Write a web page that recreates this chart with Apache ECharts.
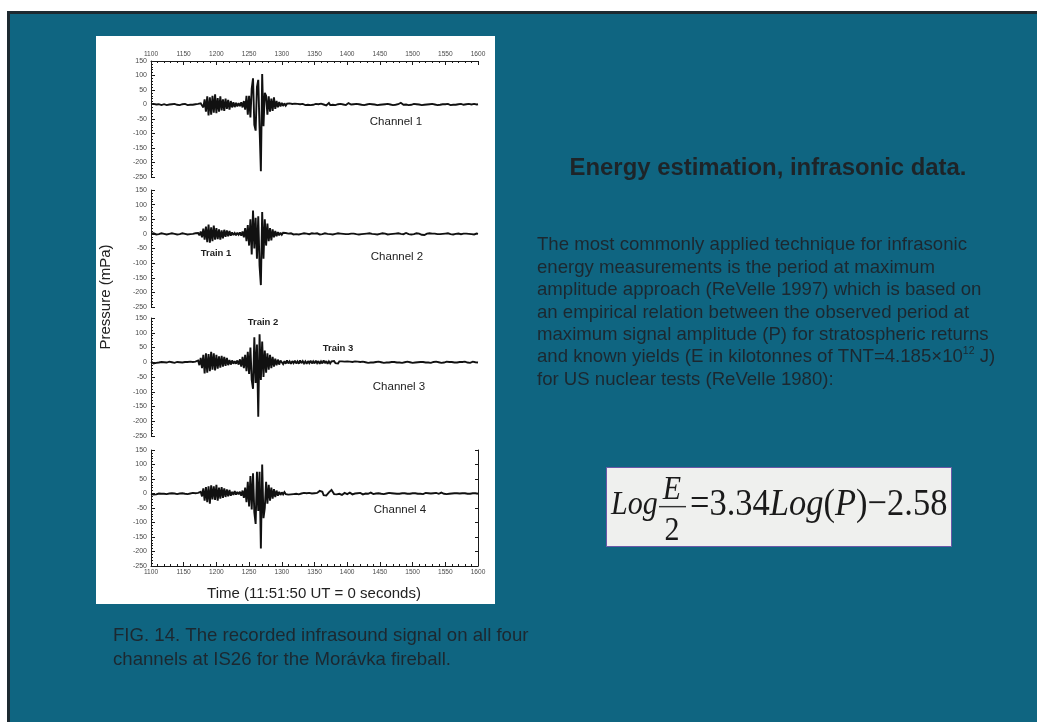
<!DOCTYPE html>
<html>
<head>
<meta charset="utf-8">
<title>Energy estimation, infrasonic data</title>
<script src="https://cdn.jsdelivr.net/npm/echarts/dist/echarts.min.js"></script>
<style>
  html, body { margin: 0; padding: 0; background: #ffffff; }
  #chart { width: 1037px; height: 722px; }
</style>
</head>
<body>
<div id="chart"></div>
<script>
// Infrasound pressure (mPa) at IS26, one sample every 2 s from t = 1100 s to 1600 s
const tStart = 1100;
const tStep = 2;

const channel1 = [
  1,-2,2,-1,0,-3,1,2,-2,0,1,-1,-2,2,0,-1,1,-2,2,0,-1,1,-2,0,1,
  -1,2,0,-2,1,-1,2,-1,0,1,-2,2,-3,4,8,-10,18,-25,28,-38,25,-35,30,-28,35,
  -30,22,-25,28,-20,18,-22,20,-15,16,-18,12,-10,8,-9,6,-7,5,-6,8,-10,12,-18,30,-35,
  30,-45,55,90,-70,-90,60,85,-80,-230,105,-75,40,30,-35,28,-25,20,-22,25,-15,12,-10,9,-7,
  6,-5,4,-4,3,-3,4,-2,2,-3,3,-1,2,-2,1,-3,2,0,-2,3,-1,1,-2,2,-1,
  0,2,-2,1,-1,3,-2,0,2,-3,1,5,-2,1,-1,2,-2,0,1,-2,2,-1,0,1,-2,
  2,5,-1,0,-2,1,-1,2,-3,1,0,-1,2,-2,1,0,-1,2,-2,1,-1,0,2,-2,1,
  -1,2,0,-2,1,-1,2,-1,0,1,-2,2,-1,0,1,4,6,2,-1,-2,0,1,-2,1,-1,
  0,2,-2,1,-1,0,2,-2,1,-1,2,0,-2,1,-1,2,-1,0,1,-2,2,-1,0,1,-2,
  1,-1,2,0,-2,1,-1,2,-1,0,1,-2,2,3,-1,0,1,-2,2,-1,0,1,2,-1,0,
  1
];

const channel2 = [
  1,-1,2,0,-2,1,-1,0,2,-1,0,1,-2,1,0,-1,2,-1,0,1,-2,1,-1,0,2,
  -1,0,1,-2,1,-1,2,0,-1,2,-3,3,-5,8,-12,18,-20,25,-28,32,-30,22,-25,28,-20,
  20,-18,15,-20,12,-15,14,-10,12,-8,10,-6,5,-4,3,-5,4,-3,5,-6,8,-12,20,-25,30,
  -40,50,-70,80,-50,55,-85,60,-110,-175,75,-85,50,-40,35,-25,20,-22,15,-12,10,-8,6,-5,4,
  -3,4,-2,3,-2,1,-3,2,0,-2,3,-1,1,-2,2,0,-1,2,-2,1,3,-1,0,2,-2,
  1,-1,2,0,-2,3,-1,1,2,-2,0,1,-1,2,-2,1,0,-1,2,-2,1,-1,0,1,-1,
  2,-1,0,1,-2,1,3,-1,0,-2,1,-1,2,0,-1,1,-2,2,-1,0,1,-1,2,-2,1,
  0,-1,2,-1,1,0,-2,1,-1,2,0,-1,1,-2,2,-1,0,1,-1,2,3,1,-1,0,-2,
  1,-1,0,2,-2,1,-1,-3,-5,-4,-1,1,0,2,-1,1,-2,1,0,-1,2,-1,1,0,-2,
  1,-1,2,0,-1,1,-2,2,0,-1,1,3,-1,0,1,-2,1,-1,0,2,-1,1,-2,0,1,
  0
];

const channel3 = [
  2,-3,-4,-3,-2,-3,-1,0,1,-2,0,1,-1,0,2,-1,0,1,-2,0,1,-1,0,2,-1,
  0,1,-2,1,-1,2,-2,1,-1,2,-3,6,-10,15,-20,25,-38,30,-35,28,-30,35,-25,30,-28,
  25,-22,20,-18,22,-15,18,-12,15,-10,8,-8,6,-5,4,-5,6,-8,10,-15,18,-20,25,-30,35,
  -40,50,-60,-90,85,-70,60,-185,95,-60,70,-50,40,-35,30,-25,25,-20,18,-15,12,-10,9,-8,6,
  5,-6,4,-5,6,-4,3,-5,4,-3,5,-4,3,-5,6,-3,4,-4,3,-5,4,-3,5,-4,3,
  -4,5,-3,4,-5,3,-4,6,-3,4,-5,3,-4,3,-2,4,-3,2,-4,3,-2,3,-3,2,-2,
  3,-2,2,-3,1,-2,3,-1,2,-2,1,-1,2,-2,0,1,-2,1,-1,2,-1,0,1,-1,2,
  -1,0,1,-2,1,-1,2,-1,0,1,-2,1,0,-1,2,-1,1,-2,1,0,-1,2,-1,0,1,
  -2,1,-1,2,0,-1,1,-2,1,0,-1,2,-1,1,-2,0,1,-1,2,-1,0,1,-2,1,-1,
  0,2,-1,1,-2,1,0,-1,2,-1,0,1,-2,1,-1,2,0,-1,1,-2,1,2,-1,0,1,
  -1
];

const channel4 = [
  -2,-3,-4,-2,-3,-1,0,-2,-1,1,-1,0,-2,1,0,-1,1,-1,0,1,-2,1,0,-1,1,
  0,-1,1,-2,1,0,-1,2,-1,1,-2,2,-4,6,-10,18,-25,22,-30,25,-35,28,-20,25,-22,
  30,-25,20,-18,22,-15,18,-12,14,-10,12,-8,6,-5,8,-4,5,-3,6,-8,10,-15,20,-30,40,
  -45,60,-55,70,-65,-105,75,-60,75,-190,100,-85,-50,40,-35,30,-25,20,-18,15,-12,10,-8,6,-5,
  4,-3,5,-2,3,-4,2,-3,1,-2,3,-1,2,-3,1,0,-2,2,-1,1,-3,2,-1,0,2,
  1,-1,2,5,9,10,6,-6,-10,-7,-2,4,10,12,6,-2,-6,-3,2,-1,1,-5,-2,2,0,
  -2,1,3,-1,-3,2,0,-2,1,4,2,-2,-3,1,0,2,-1,4,3,-1,-2,1,0,-2,1,
  0,-1,2,-2,1,0,-1,2,-1,1,-2,0,1,-1,2,-1,0,1,-2,1,0,-1,2,-1,0,
  1,-2,1,0,-1,2,-1,1,-2,0,2,3,1,-1,0,-2,1,-1,2,0,-1,1,3,1,-1,
  0,-2,1,-1,2,0,-1,1,-2,1,2,0,-1,1,-2,1,0,-1,2,-1,0,1,-2,1,0,
  -1
];

const channels = [channel1, channel2, channel3, channel4];
const channelNames = ['Channel 1', 'Channel 2', 'Channel 3', 'Channel 4'];
const trainNames = ['Train 1', 'Train 2', 'Train 3'];

// Axis ranges
const timeMin = 1100, timeMax = 1600, timeInterval = 50;
const pressMin = -250, pressMax = 150, pressInterval = 50;

// Panel placement (px)
const plotLeft = 151, plotRight = 478;
const panelTops = [61, 190, 318, 450];
const panelHeights = [116, 117, 118, 116];

const inkColor = '#1a1a1a';
const sans = 'Liberation Sans, Arial, sans-serif';
const serif = 'Liberation Serif, Times New Roman, serif';
const timeTickFont = { fontSize: 6.6, color: '#4a4a4a', fontFamily: sans, formatter: v => String(v) };
const pressTickFont = { fontSize: 7, color: '#4a4a4a', fontFamily: sans, formatter: v => String(v) };

const chart = echarts.init(document.getElementById('chart'), null, { renderer: 'canvas' });

const grids = panelTops.map((top, i) => ({
  left: plotLeft, width: plotRight - plotLeft, top: top, height: panelHeights[i],
  containLabel: false, outerBoundsMode: 'none'
}));

function timeAxis(i) {
  const ax = {
    type: 'value', gridIndex: i, min: timeMin, max: timeMax, interval: timeInterval,
    splitLine: { show: false }
  };
  if (i === 0 || i === 3) {
    Object.assign(ax, {
      position: i === 0 ? 'top' : 'bottom',
      axisLine: { show: true, onZero: false, lineStyle: { color: inkColor, width: 1 } },
      axisTick: { show: true, inside: true, length: 4, lineStyle: { color: inkColor } },
      minorTick: { show: true, splitNumber: 5, length: 2, lineStyle: { color: inkColor } },
      axisLabel: Object.assign({ margin: 3 }, timeTickFont)
    });
  } else {
    ax.show = false;
  }
  return ax;
}

function pressureAxis(i) {
  return {
    type: 'value', gridIndex: i, min: pressMin, max: pressMax, interval: pressInterval,
    position: 'left',
    splitLine: { show: false },
    axisLine: { show: true, onZero: false, lineStyle: { color: inkColor, width: 1 } },
    axisTick: { show: true, inside: true, length: 4, lineStyle: { color: inkColor } },
    minorTick: { show: true, splitNumber: 5, length: 2, lineStyle: { color: inkColor } },
    axisLabel: Object.assign({ margin: 4 }, pressTickFont)
  };
}

const yAxes = [0, 1, 2, 3].map(pressureAxis);
// Closing frame on the right of the lowest panel
yAxes.push({
  type: 'value', gridIndex: 3, min: pressMin, max: pressMax, interval: pressInterval,
  position: 'right',
  splitLine: { show: false },
  axisLine: { show: true, onZero: false, lineStyle: { color: inkColor, width: 1 } },
  axisTick: { show: true, inside: true, length: 3, lineStyle: { color: inkColor } },
  axisLabel: { show: false }
});

const series = channels.map((vals, i) => ({
  type: 'line',
  name: channelNames[i],
  xAxisIndex: i,
  yAxisIndex: i,
  data: vals.map((v, k) => [tStart + k * tStep, v]),
  showSymbol: false,
  symbol: 'none',
  lineStyle: { color: '#111111', width: 1.9, join: 'miter', miterLimit: 2 },
  animation: false,
  silent: true,
  clip: true,
  z: 3
}));

const textDark = '#1c2830';

const slideElements = [
  // slide frame and fill
  { type: 'rect', shape: { x: 8.5, y: 12.5, width: 1100, height: 800 },
    style: { fill: '#0f6581', stroke: '#1d2a31', lineWidth: 3 }, z: -20, silent: true },
  // white figure panel
  { type: 'rect', shape: { x: 96, y: 36, width: 399, height: 568 },
    style: { fill: '#ffffff' }, z: -10, silent: true },

  // figure annotations
  ...channelNames.map((name, i) => ({
    type: 'text', x: [396, 397, 399, 400][i], y: [122, 257, 387, 510][i],
    style: { text: name, fontSize: 11.5, fontFamily: sans, fill: '#222', align: 'center', verticalAlign: 'middle' },
    z: 10, silent: true
  })),
  ...trainNames.map((name, i) => ({
    type: 'text', x: [216, 263, 338][i], y: [253, 322, 348][i],
    style: { text: name, fontSize: 9.5, fontWeight: 'bold', fontFamily: sans, fill: '#222', align: 'center', verticalAlign: 'middle' },
    z: 10, silent: true
  })),
  { type: 'text', x: 106, y: 297, rotation: Math.PI / 2,
    style: { text: 'Pressure (mPa)', fontSize: 15, fontFamily: sans, fill: '#222', align: 'center', verticalAlign: 'middle' },
    z: 10, silent: true },
  { type: 'text', x: 314, y: 594,
    style: { text: 'Time (11:51:50 UT = 0 seconds)', fontSize: 15, fontFamily: sans, fill: '#222', align: 'center', verticalAlign: 'middle' },
    z: 10, silent: true },

  // right-hand text
  { type: 'text', x: 768, y: 168,
    style: { text: 'Energy estimation, infrasonic data.', fontSize: 23.9, fontWeight: 'bold', fontFamily: sans, fill: '#1e2428', align: 'center', verticalAlign: 'middle' },
    z: 10, silent: true },
  { type: 'text', x: 537, y: 234,
    style: {
      text: 'The most commonly applied technique for infrasonic\n' +
            'energy measurements is the period at maximum\n' +
            'amplitude approach (ReVelle 1997) which is based on\n' +
            'an empirical relation between the observed period at\n' +
            'maximum signal amplitude (P) for stratospheric returns\n' +
            'and known yields (E in kilotonnes of TNT=4.185\u00d710{s|12} J)\n' +
            'for US nuclear tests (ReVelle 1980):',
      fontSize: 18.6, lineHeight: 22.4, fontFamily: sans, fill: textDark, align: 'left', verticalAlign: 'top',
      rich: { s: { fontSize: 10.5, lineHeight: 12, verticalAlign: 'top', fontFamily: sans, fill: textDark } }
    },
    z: 10, silent: true },

  // formula box
  { type: 'rect', shape: { x: 606.5, y: 467.5, width: 345, height: 79 },
    style: { fill: '#eff0ee', stroke: '#6a58a8', lineWidth: 1 }, z: 5, silent: true },
  {
    type: 'group', x: 0, y: 505, scaleY: 1.1, z: 10, silent: true,
    children: [
      { type: 'text', x: 611, y: 0, style: { text: 'Log', fontSize: 30, fontStyle: 'italic', fontFamily: serif, fill: '#1a1a1a', align: 'left', verticalAlign: 'middle' }, z: 10 },
      { type: 'text', x: 672, y: -13, style: { text: 'E', fontSize: 30, fontStyle: 'italic', fontFamily: serif, fill: '#1a1a1a', align: 'center', verticalAlign: 'middle' }, z: 10 },
      { type: 'line', shape: { x1: 659, y1: 1.5, x2: 686, y2: 1.5 }, style: { stroke: '#333', lineWidth: 1.3 }, z: 10 },
      { type: 'text', x: 672, y: 24, style: { text: '2', fontSize: 30, fontFamily: serif, fill: '#1a1a1a', align: 'center', verticalAlign: 'middle' }, z: 10 },
      { type: 'text', x: 690, y: 0,
        style: {
          text: '{n|=3.34}{i|Log}{n|(}{i|P}{n|)\u22122.58}',
          fontSize: 34.5, fontFamily: serif, fill: '#1a1a1a', align: 'left', verticalAlign: 'middle',
          rich: {
            n: { fontSize: 34.5, fontFamily: serif, fill: '#1a1a1a' },
            i: { fontSize: 34.5, fontStyle: 'italic', fontFamily: serif, fill: '#1a1a1a' }
          }
        }, z: 10 }
    ]
  },

  // caption
  { type: 'text', x: 113, y: 624.5,
    style: {
      text: 'FIG. 14. The recorded infrasound signal on all four\nchannels at IS26 for the Morávka fireball.',
      fontSize: 18.6, lineHeight: 23.3, fontFamily: sans, fill: textDark, align: 'left', verticalAlign: 'top'
    },
    z: 10, silent: true }
];

chart.setOption({
  animation: false,
  backgroundColor: '#ffffff',
  grid: grids,
  xAxis: [0, 1, 2, 3].map(timeAxis),
  yAxis: yAxes,
  series: series,
  graphic: { elements: slideElements }
});
</script>
</body>
</html>
